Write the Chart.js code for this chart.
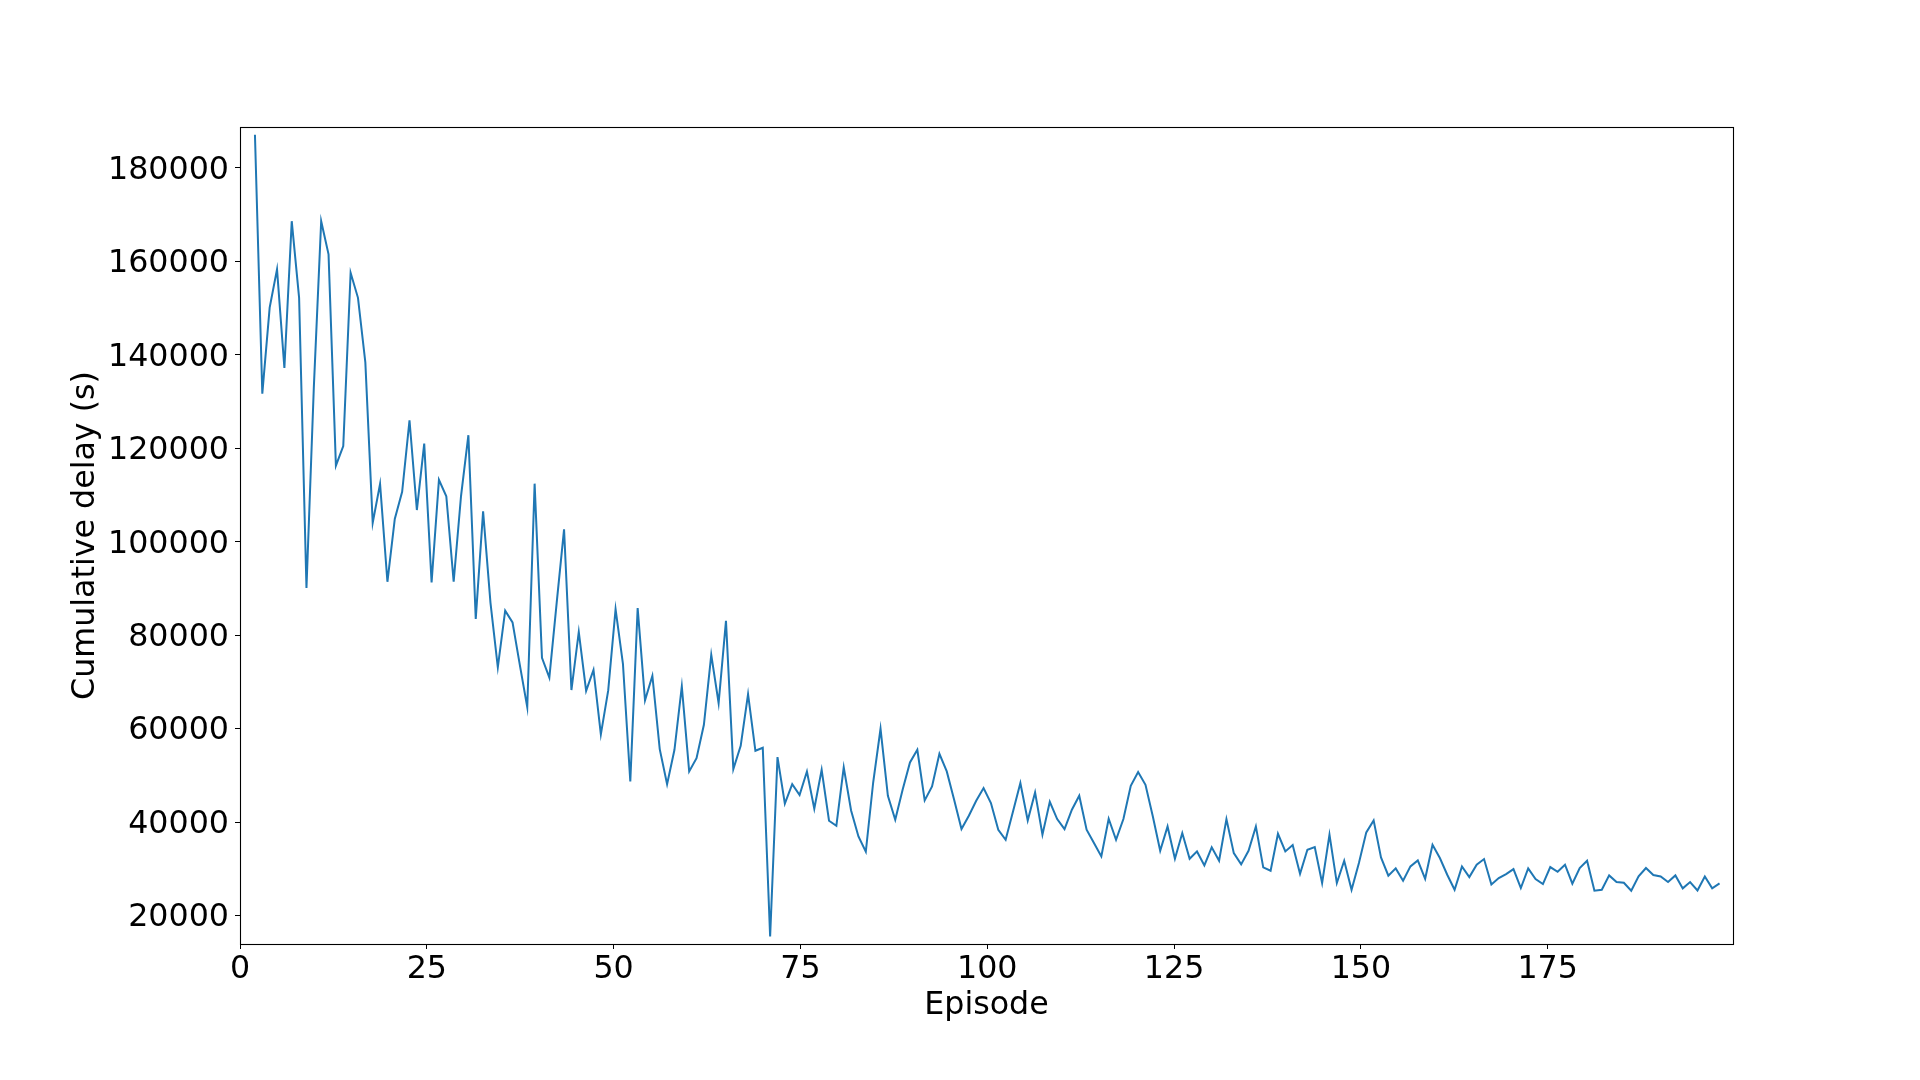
<!DOCTYPE html>
<html>
<head>
<meta charset="utf-8">
<script src="https://cdn.jsdelivr.net/npm/chart.js@4.4.0/dist/chart.umd.min.js"></script>
<style>
    html, body { margin: 0; padding: 0; background: #fff; }
    #wrap { width: 1920px; height: 1080px; }
</style>
</head>
<body>
<div id="wrap"><canvas id="delayChart" width="1920" height="1080"></canvas></div>
<script>
// cumulative delay per episode (200 samples)
const delay = [
    187100, 131700, 150100, 158300, 137200, 168600, 152200, 90100, 133000, 168600,
    161500, 116300, 120500, 157550, 152200, 138400, 104050, 112400, 91450, 104900,
    110700, 126000, 106800, 121000, 91300, 113250, 109750, 91450, 109800, 122800,
    83500, 106500, 87000, 73160, 85270, 82750, 73560, 64610, 112440, 75190,
    70960, 87000, 102680, 68280, 80720, 68110, 72590, 58800, 68200, 85600,
    73900, 48730, 85810, 66100, 71340, 55650, 48160, 55500, 69050, 50870,
    53720, 60860, 75830, 65490, 83100, 51370, 56360, 67410, 55290, 55930,
    15580, 53940, 44000, 48130, 45810, 50870, 42890, 51230, 40320, 39250,
    51730, 42530, 36970, 33690, 48500, 60000, 45670, 40530, 46950, 52800,
    55510, 44670, 47660, 54650, 50870, 44810, 38540, 41400, 44600, 47310,
    44100, 38400, 36260, 42320, 48380, 40390, 46380, 37330, 44380, 40680,
    38540, 42670, 45670, 38400, 35540, 32690, 40750, 36260, 40680, 47810,
    50730, 48020, 41250, 33900, 39110, 32190, 37680, 32190, 33760, 30770,
    34620, 31770, 40680, 33400, 30980, 33900, 39110, 30340, 29630, 37540,
    33760, 35110, 28980, 34120, 34690, 26990, 37330, 26990, 31760, 25560,
    31270, 37830, 40390, 32480, 28560, 30130, 27490, 30550, 31840, 27910,
    35190, 32340, 28770, 25560, 30550, 28270, 30910, 32120, 26700, 28060,
    28910, 29980, 25920, 30120, 27840, 26770, 30410, 29410, 30910, 26850,
    30200, 31760, 25350, 25560, 28630, 27200, 27060, 25350, 28410, 30200,
    28700, 28410, 27200, 28630, 25850, 27200, 25420, 28410, 25850, 26920
];
// samples sit on an even grid from episode 2 to 198
const firstEpisode = 2;
const lastEpisode = 198;
const episodes = delay.map((_, i) => firstEpisode + i * (lastEpisode - firstEpisode) / (delay.length - 1));

const xTicks = [0, 25, 50, 75, 100, 125, 150, 175];
const yTicks = [20000, 40000, 60000, 80000, 100000, 120000, 140000, 160000, 180000];

const font = { family: 'DejaVu Sans', size: 31.7 };

const frame = {
    id: 'frame',
    afterDraw(chart) {
        const { ctx, chartArea: a } = chart;
        ctx.save();
        ctx.strokeStyle = '#000';
        ctx.lineWidth = 1.1;
        ctx.strokeRect(a.left + 0.5, a.top + 0.5, a.right - a.left, a.bottom - a.top);
        ctx.restore();
    }
};

new Chart(document.getElementById('delayChart'), {
    type: 'line',
    data: {
        datasets: [{
            data: delay.map((v, i) => ({ x: episodes[i], y: v })),
            borderColor: '#1f77b4',
            borderWidth: 2,
            pointRadius: 0,
            tension: 0,
            fill: false
        }]
    },
    options: {
        responsive: false,
        animation: false,
        devicePixelRatio: 1,
        layout: { padding: { left: 0, right: 187, top: 127, bottom: 0 } },
        plugins: {
            legend: { display: false },
            tooltip: { enabled: false }
        },
        scales: {
            x: {
                type: 'linear',
                min: 0,
                max: 199.8,
                afterBuildTicks: s => { s.ticks = xTicks.map(v => ({ value: v })); },
                afterFit: s => { s.height = 136; },
                border: { display: false },
                grid: { drawOnChartArea: false, drawTicks: true, tickLength: 5, tickColor: '#000', tickWidth: 1 },
                ticks: { color: '#000', font: font, padding: 2, maxRotation: 0, autoSkip: false },
                title: { display: true, text: 'Episode', color: '#000', font: font, padding: { top: 0, bottom: 55 } }
            },
            y: {
                type: 'linear',
                min: 13950,
                max: 188750,
                afterBuildTicks: s => { s.ticks = yTicks.map(v => ({ value: v })); },
                afterFit: s => { s.width = 240; },
                border: { display: false },
                grid: { drawOnChartArea: false, drawTicks: true, tickLength: 5, tickColor: '#000', tickWidth: 1 },
                ticks: { color: '#000', font: font, padding: 6, labelOffset: 2.5, callback: v => String(v) },
                title: { display: true, text: 'Cumulative delay (s)', color: '#000', font: font, padding: { top: 66.5, bottom: 0 } }
            }
        }
    },
    plugins: [frame]
});
</script>
</body>
</html>
